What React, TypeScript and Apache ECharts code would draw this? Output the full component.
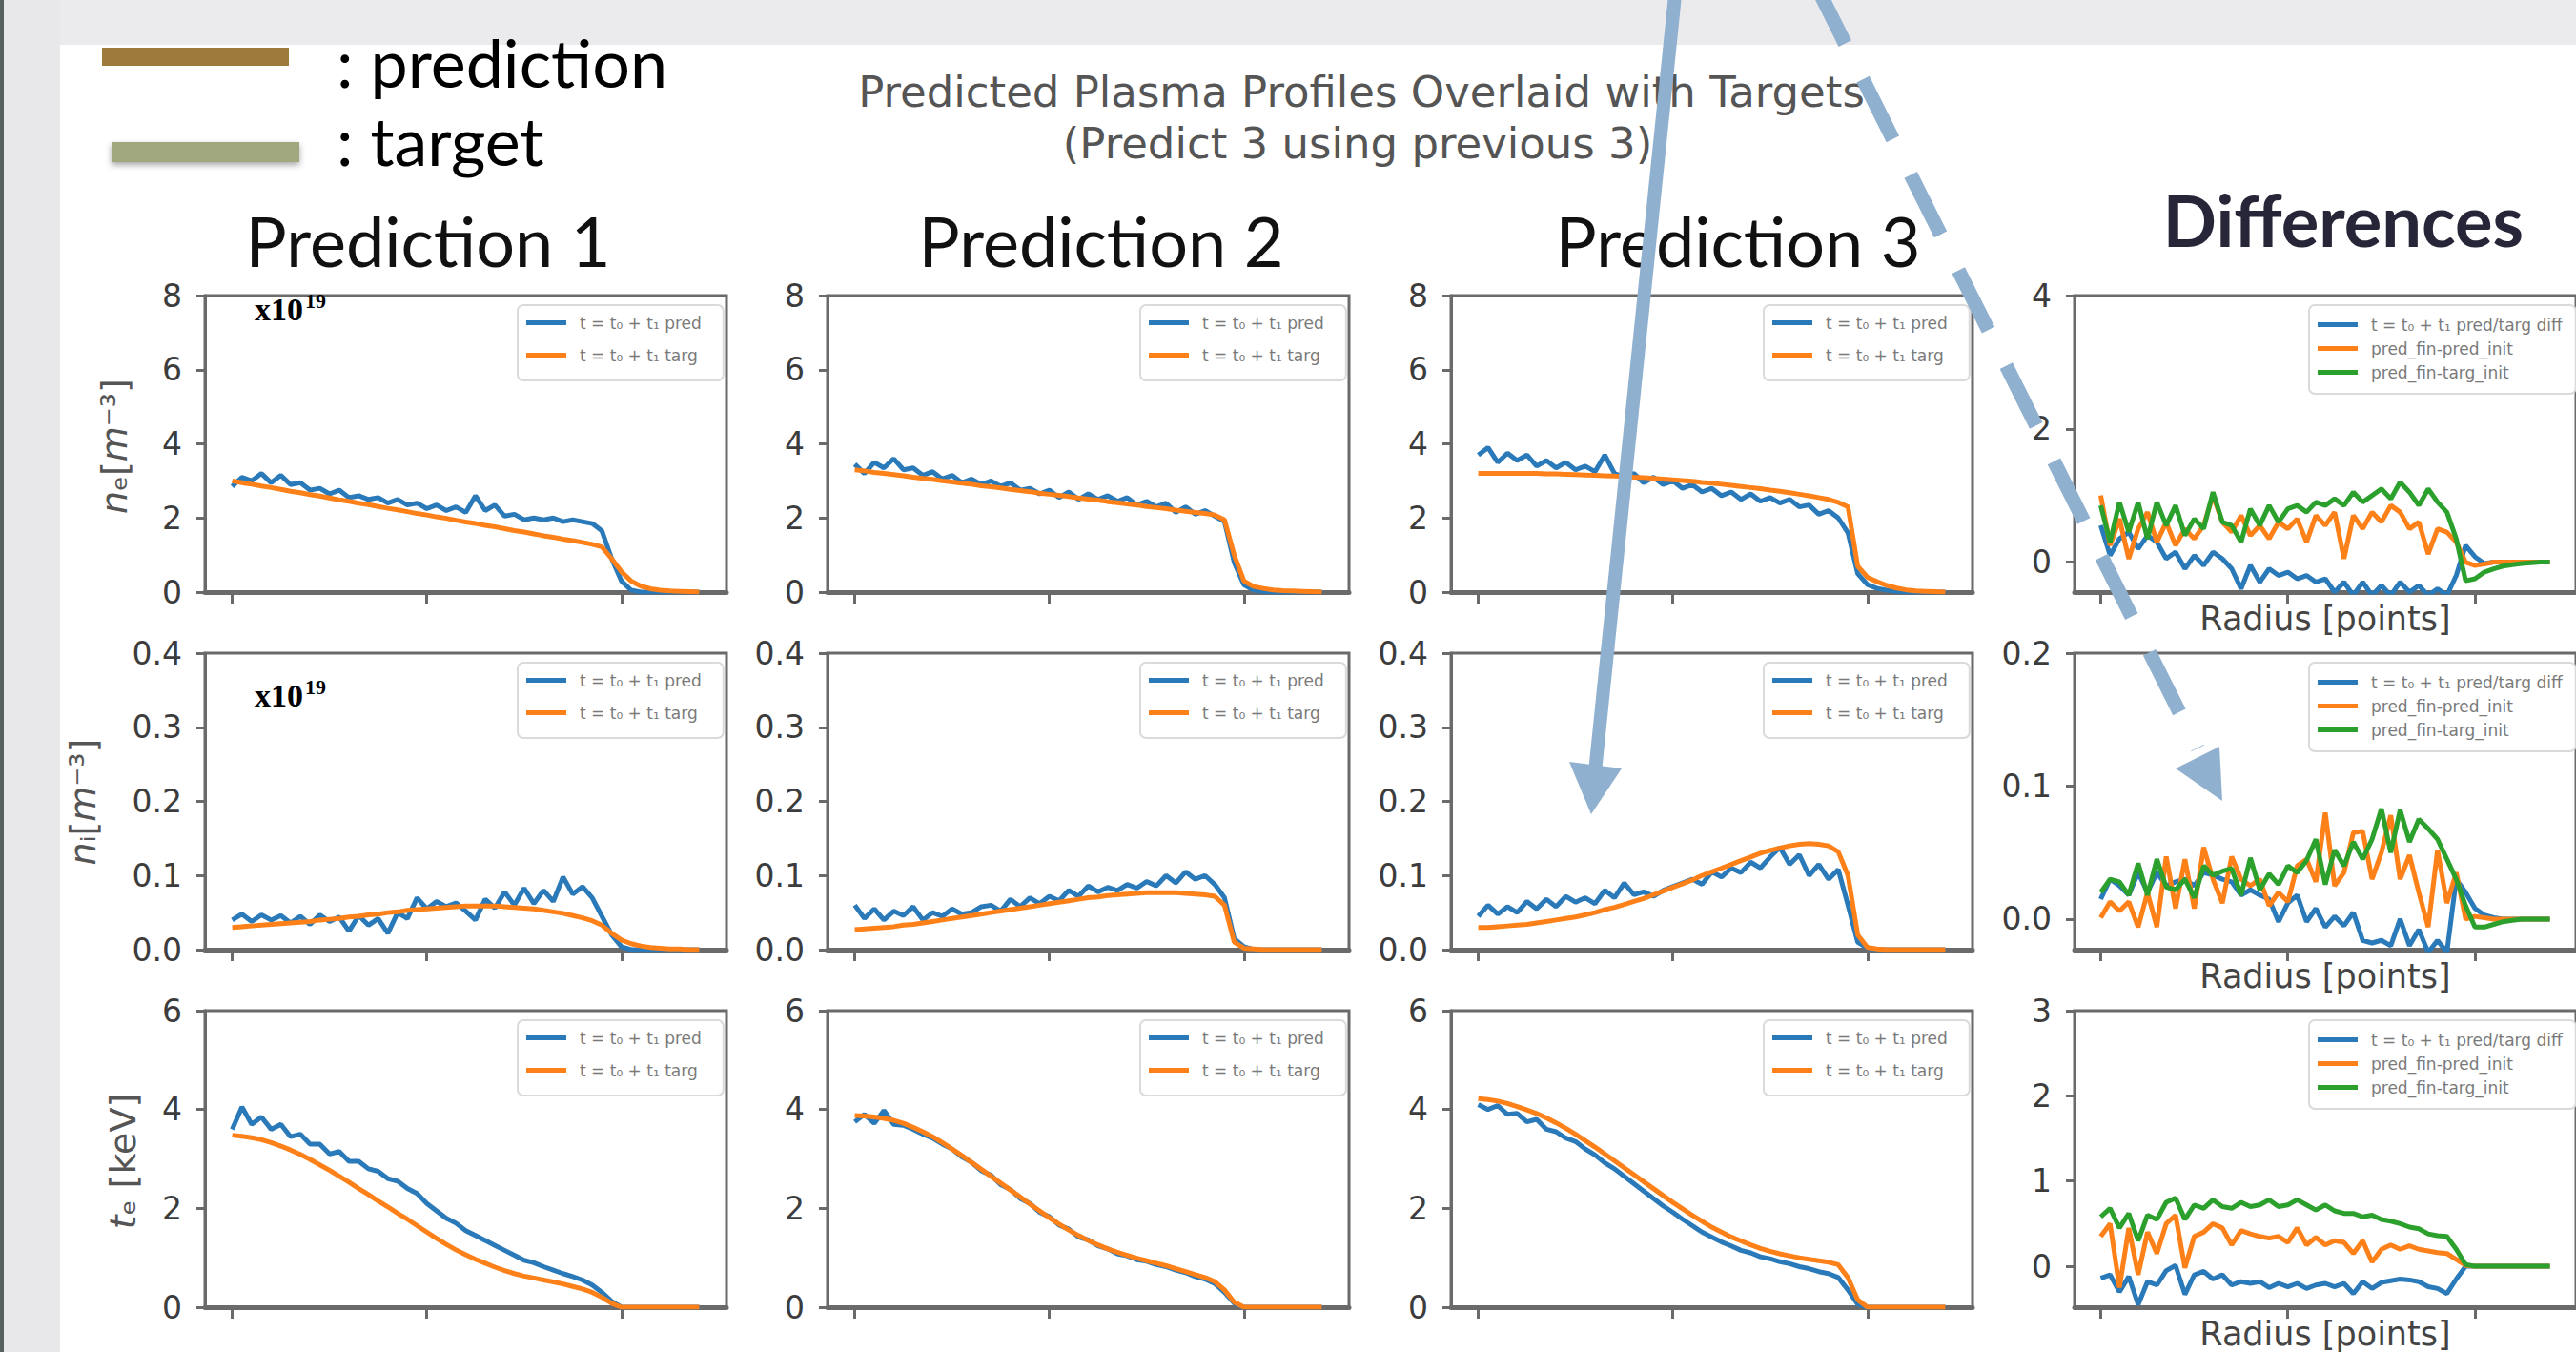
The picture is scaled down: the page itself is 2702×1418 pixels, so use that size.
import React, { useEffect, useRef } from "react";
import * as echarts from "echarts";

// ---------- data ----------
const radius = [0, 2.5, 5, 7.5, 10, 12.5, 15, 17.5, 20, 22.5, 25, 27.5, 30, 32.5, 35, 37.5, 40, 42.5, 45, 47.5, 50, 52.5, 55, 57.5, 60, 62.5, 65, 67.5, 70, 72.5, 75, 77.5, 80, 82.5, 85, 87.5, 90, 92.5, 95, 97.5, 100, 102.5, 105, 107.5, 110, 112.5, 115, 117.5, 120];
const radiusTicks = [0, 50, 100];

const nePred1 = [2.85, 3.1, 3.0, 3.2, 2.95, 3.15, 2.9, 2.95, 2.75, 2.8, 2.65, 2.75, 2.55, 2.6, 2.5, 2.55, 2.4, 2.5, 2.35, 2.4, 2.25, 2.35, 2.2, 2.3, 2.15, 2.6, 2.2, 2.35, 2.05, 2.1, 1.95, 2.0, 1.95, 2.0, 1.9, 1.95, 1.9, 1.85, 1.65, 0.9, 0.3, 0.05, 0, 0, 0, 0, 0, 0, 0];
const neTarg1 = [3.0, 2.95, 2.91, 2.86, 2.82, 2.77, 2.72, 2.68, 2.63, 2.59, 2.54, 2.49, 2.45, 2.4, 2.36, 2.31, 2.26, 2.22, 2.17, 2.12, 2.08, 2.03, 1.99, 1.94, 1.89, 1.85, 1.8, 1.76, 1.71, 1.66, 1.62, 1.57, 1.52, 1.48, 1.43, 1.39, 1.34, 1.29, 1.22, 0.9, 0.55, 0.3, 0.16, 0.09, 0.05, 0.03, 0.02, 0.01, 0.0];
const nePred2 = [3.45, 3.2, 3.5, 3.35, 3.6, 3.3, 3.35, 3.15, 3.25, 3.05, 3.15, 2.95, 3.05, 2.9, 3.0, 2.85, 2.95, 2.75, 2.8, 2.65, 2.75, 2.55, 2.7, 2.5, 2.65, 2.5, 2.6, 2.45, 2.55, 2.35, 2.45, 2.3, 2.4, 2.15, 2.3, 2.1, 2.2, 2.05, 1.9, 0.8, 0.2, 0.05, 0.02, 0, 0, 0, 0, 0, 0];
const neTarg2 = [3.3, 3.27, 3.23, 3.2, 3.17, 3.14, 3.1, 3.07, 3.04, 3.0, 2.97, 2.94, 2.91, 2.87, 2.84, 2.81, 2.77, 2.74, 2.71, 2.67, 2.64, 2.61, 2.58, 2.54, 2.51, 2.48, 2.44, 2.41, 2.38, 2.35, 2.31, 2.28, 2.25, 2.21, 2.18, 2.15, 2.12, 2.08, 1.95, 1.0, 0.3, 0.15, 0.1, 0.06, 0.04, 0.03, 0.02, 0.01, 0.0];
const nePred3 = [3.7, 3.9, 3.5, 3.75, 3.55, 3.7, 3.4, 3.55, 3.35, 3.5, 3.3, 3.4, 3.25, 3.7, 3.2, 3.1, 3.2, 2.95, 3.1, 2.9, 3.0, 2.8, 2.9, 2.7, 2.8, 2.6, 2.7, 2.5, 2.65, 2.45, 2.55, 2.4, 2.5, 2.3, 2.35, 2.1, 2.2, 2.0, 1.6, 0.5, 0.2, 0.1, 0.05, 0.02, 0, 0, 0, 0, 0];
const neTarg3 = [3.2, 3.2, 3.2, 3.2, 3.2, 3.2, 3.2, 3.19, 3.19, 3.18, 3.17, 3.16, 3.15, 3.14, 3.13, 3.12, 3.1, 3.09, 3.07, 3.05, 3.03, 3.01, 2.99, 2.96, 2.94, 2.91, 2.88, 2.85, 2.82, 2.79, 2.75, 2.72, 2.68, 2.64, 2.6, 2.55, 2.5, 2.42, 2.3, 0.7, 0.4, 0.28, 0.18, 0.11, 0.06, 0.03, 0.02, 0.01, 0.0];
const neDiffPred = [0.55, 0.1, 0.35, 0.45, 0.2, 0.4, 0.3, 0.05, 0.15, -0.1, 0.1, -0.05, 0.15, 0.05, -0.1, -0.4, -0.05, -0.3, -0.1, -0.2, -0.15, -0.25, -0.2, -0.3, -0.25, -0.45, -0.3, -0.5, -0.3, -0.5, -0.35, -0.5, -0.3, -0.45, -0.35, -0.5, -0.4, -0.5, -0.2, 0.25, 0.08, -0.02, 0, 0, 0, 0, 0, 0, 0];
const neDiffFinPred = [1.0, 0.25, 0.65, 0.05, 0.5, 0.75, 0.3, 0.6, 0.25, 0.5, 0.35, 0.55, 1.0, 0.6, 0.45, 0.7, 0.4, 0.55, 0.35, 0.6, 0.5, 0.65, 0.3, 0.7, 0.55, 0.75, 0.05, 0.7, 0.5, 0.75, 0.6, 0.85, 0.75, 0.5, 0.6, 0.12, 0.5, 0.45, 0.3, 0.0, -0.05, -0.03, 0, 0, 0, 0, 0, 0, 0];
const neDiffFinTarg = [0.85, 0.3, 0.9, 0.45, 0.9, 0.35, 0.9, 0.55, 0.85, 0.4, 0.65, 0.5, 1.05, 0.6, 0.55, 0.3, 0.8, 0.55, 0.85, 0.6, 0.8, 0.85, 0.75, 0.9, 0.85, 0.95, 0.85, 1.05, 0.9, 1.0, 1.1, 0.95, 1.2, 1.05, 0.85, 1.1, 0.9, 0.75, 0.35, -0.28, -0.25, -0.15, -0.1, -0.06, -0.04, -0.02, -0.01, 0, 0];

const niPred1 = [0.04, 0.048, 0.038, 0.047, 0.04, 0.046, 0.036, 0.045, 0.034, 0.047, 0.038, 0.044, 0.025, 0.046, 0.033, 0.042, 0.022, 0.05, 0.042, 0.07, 0.055, 0.065, 0.058, 0.063, 0.052, 0.04, 0.068, 0.056, 0.078, 0.06, 0.083, 0.062, 0.08, 0.065, 0.098, 0.075, 0.085, 0.07, 0.045, 0.02, 0.004, 0, 0, 0, 0, 0, 0, 0, 0];
const niTarg1 = [0.03, 0.031, 0.032, 0.033, 0.034, 0.035, 0.036, 0.037, 0.038, 0.04, 0.041, 0.042, 0.044, 0.045, 0.047, 0.048, 0.05, 0.051, 0.053, 0.054, 0.055, 0.056, 0.057, 0.058, 0.059, 0.059, 0.059, 0.059, 0.058, 0.057, 0.056, 0.055, 0.053, 0.051, 0.049, 0.046, 0.043, 0.039, 0.033, 0.022, 0.013, 0.008, 0.005, 0.003, 0.002, 0.001, 0.001, 0.0, 0.0];
const niPred2 = [0.06, 0.042, 0.055, 0.04, 0.052, 0.046, 0.058, 0.04, 0.05, 0.045, 0.055, 0.048, 0.05, 0.058, 0.06, 0.052, 0.068, 0.058, 0.07, 0.062, 0.072, 0.066, 0.08, 0.072, 0.086, 0.078, 0.084, 0.08, 0.088, 0.083, 0.092, 0.086, 0.1, 0.09, 0.105, 0.095, 0.1, 0.088, 0.07, 0.015, 0.004, 0, 0, 0, 0, 0, 0, 0, 0];
const niTarg2 = [0.027, 0.028, 0.029, 0.03, 0.031, 0.033, 0.034, 0.036, 0.038, 0.04, 0.042, 0.044, 0.046, 0.048, 0.05, 0.052, 0.054, 0.056, 0.058, 0.06, 0.062, 0.064, 0.066, 0.068, 0.07, 0.071, 0.073, 0.074, 0.075, 0.076, 0.077, 0.077, 0.077, 0.077, 0.076, 0.075, 0.074, 0.072, 0.06, 0.01, 0.002, 0.001, 0, 0, 0, 0, 0, 0, 0];
const niPred3 = [0.045, 0.06, 0.048, 0.058, 0.05, 0.065, 0.055, 0.068, 0.058, 0.072, 0.064, 0.07, 0.062, 0.08, 0.07, 0.09, 0.074, 0.078, 0.072, 0.08, 0.085, 0.09, 0.095, 0.088, 0.105, 0.098, 0.11, 0.104, 0.118, 0.11, 0.125, 0.138, 0.115, 0.128, 0.1, 0.115, 0.095, 0.108, 0.06, 0.01, 0.002, 0, 0, 0, 0, 0, 0, 0, 0];
const niTarg3 = [0.03, 0.03, 0.031, 0.032, 0.033, 0.034, 0.036, 0.038, 0.04, 0.042, 0.044, 0.047, 0.05, 0.054, 0.057, 0.061, 0.065, 0.069, 0.074, 0.079, 0.084, 0.089, 0.094, 0.1, 0.105, 0.11, 0.115, 0.12, 0.125, 0.13, 0.134, 0.137, 0.14, 0.142, 0.143, 0.142, 0.14, 0.132, 0.1, 0.02, 0.003, 0.001, 0, 0, 0, 0, 0, 0, 0];
const niDiffPred = [0.015, 0.03, 0.025, 0.018, 0.035, 0.02, 0.035, 0.025, 0.028, 0.03, 0.025, 0.035, 0.033, 0.03, 0.028, 0.018, 0.022, 0.018, 0.015, -0.002, 0.012, 0.018, -0.002, 0.008, -0.006, 0.002, -0.005, 0.005, -0.016, -0.018, -0.016, -0.02, 0.0, -0.02, -0.008, -0.025, -0.016, -0.025, 0.03, 0.02, 0.008, 0.003, 0.001, 0, 0, 0, 0, 0, 0];
const niDiffFinPred = [0.001, 0.013, 0.006, 0.013, -0.006, 0.02, -0.006, 0.047, 0.008, 0.045, 0.008, 0.054, 0.03, 0.012, 0.047, 0.03, 0.025, 0.03, 0.01, 0.02, 0.013, 0.04, 0.045, 0.028, 0.08, 0.025, 0.035, 0.065, 0.066, 0.03, 0.05, 0.078, 0.03, 0.048, 0.02, -0.006, 0.052, 0.012, 0.035, 0.0, 0.002, 0.001, 0, 0, 0, 0, 0, 0, 0];
const niDiffFinTarg = [0.02, 0.03, 0.028, 0.018, 0.042, 0.018, 0.045, 0.024, 0.022, 0.03, 0.016, 0.04, 0.033, 0.036, 0.038, 0.018, 0.046, 0.022, 0.034, 0.026, 0.04, 0.035, 0.044, 0.06, 0.026, 0.052, 0.04, 0.058, 0.045, 0.06, 0.083, 0.05, 0.082, 0.058, 0.075, 0.068, 0.06, 0.045, 0.03, 0.01, -0.006, -0.006, -0.004, -0.002, -0.001, 0, 0, 0, 0];

const tePred1 = [3.6, 4.05, 3.7, 3.85, 3.6, 3.7, 3.45, 3.5, 3.3, 3.3, 3.1, 3.15, 2.95, 2.95, 2.8, 2.75, 2.6, 2.55, 2.4, 2.3, 2.1, 1.95, 1.8, 1.7, 1.55, 1.45, 1.35, 1.25, 1.15, 1.05, 0.95, 0.9, 0.82, 0.75, 0.68, 0.62, 0.55, 0.45, 0.3, 0.12, 0, 0, 0, 0, 0, 0, 0, 0, 0];
const teTarg1 = [3.48, 3.46, 3.43, 3.39, 3.33, 3.26, 3.18, 3.09, 2.99, 2.88, 2.77, 2.65, 2.53, 2.4, 2.28, 2.15, 2.03, 1.9, 1.78, 1.65, 1.52, 1.39, 1.27, 1.16, 1.06, 0.97, 0.89, 0.81, 0.74, 0.68, 0.63, 0.59, 0.55, 0.51, 0.47, 0.42, 0.37, 0.3, 0.2, 0.08, 0, 0, 0, 0, 0, 0, 0, 0, 0];
const tePred2 = [3.75, 3.9, 3.72, 3.98, 3.7, 3.68, 3.6, 3.5, 3.42, 3.3, 3.2, 3.04, 2.93, 2.76, 2.67, 2.48, 2.38, 2.2, 2.1, 1.92, 1.83, 1.66, 1.58, 1.42, 1.36, 1.24, 1.18, 1.08, 1.04, 0.96, 0.93, 0.86, 0.82, 0.75, 0.7, 0.62, 0.57, 0.48, 0.3, 0.08, 0, 0, 0, 0, 0, 0, 0, 0, 0];
const teTarg2 = [3.88, 3.87, 3.85, 3.82, 3.78, 3.72, 3.64, 3.55, 3.45, 3.33, 3.2, 3.07, 2.93, 2.79, 2.65, 2.51, 2.37, 2.23, 2.09, 1.95, 1.81, 1.68, 1.56, 1.45, 1.35, 1.26, 1.18, 1.11, 1.05, 0.99, 0.94, 0.89, 0.84, 0.78, 0.72, 0.66, 0.6, 0.52, 0.35, 0.1, 0, 0, 0, 0, 0, 0, 0, 0, 0];
const tePred3 = [4.1, 4.0, 4.08, 3.9, 3.92, 3.75, 3.8, 3.6, 3.55, 3.42, 3.35, 3.2, 3.08, 2.92, 2.8, 2.65, 2.5, 2.35, 2.2, 2.05, 1.92, 1.78, 1.65, 1.52, 1.42, 1.32, 1.24, 1.15, 1.1, 1.02, 0.98, 0.92, 0.88, 0.82, 0.78, 0.72, 0.68, 0.6, 0.35, 0.06, 0, 0, 0, 0, 0, 0, 0, 0, 0];
const teTarg3 = [4.22, 4.2, 4.17, 4.12, 4.06, 3.99, 3.92, 3.83, 3.73, 3.62, 3.5, 3.37, 3.24, 3.1, 2.96, 2.82, 2.68, 2.54, 2.4, 2.26, 2.12, 1.99, 1.86, 1.74, 1.62, 1.52, 1.42, 1.34, 1.26, 1.19, 1.13, 1.08, 1.04, 1.0, 0.97, 0.94, 0.91, 0.86, 0.6, 0.15, 0, 0, 0, 0, 0, 0, 0, 0, 0];
const teDiffPred = [-0.14, -0.1, -0.3, -0.12, -0.45, -0.18, -0.22, -0.05, 0.01, -0.33, -0.1, -0.06, -0.15, -0.1, -0.22, -0.18, -0.2, -0.18, -0.25, -0.2, -0.24, -0.2, -0.26, -0.22, -0.2, -0.24, -0.2, -0.32, -0.18, -0.26, -0.19, -0.17, -0.15, -0.16, -0.18, -0.24, -0.26, -0.32, -0.15, 0.0, 0, 0, 0, 0, 0, 0, 0, 0, 0];
const teDiffFinPred = [0.35, 0.5, -0.25, 0.45, -0.1, 0.4, 0.15, 0.5, 0.6, -0.02, 0.35, 0.4, 0.5, 0.45, 0.25, 0.42, 0.38, 0.35, 0.33, 0.35, 0.28, 0.45, 0.25, 0.34, 0.25, 0.3, 0.28, 0.15, 0.3, 0.05, 0.2, 0.25, 0.2, 0.24, 0.2, 0.18, 0.16, 0.15, 0.08, 0.01, 0, 0, 0, 0, 0, 0, 0, 0, 0];
const teDiffFinTarg = [0.58, 0.68, 0.45, 0.62, 0.3, 0.6, 0.55, 0.75, 0.8, 0.55, 0.72, 0.68, 0.78, 0.7, 0.68, 0.75, 0.7, 0.72, 0.78, 0.7, 0.72, 0.78, 0.72, 0.66, 0.72, 0.65, 0.62, 0.62, 0.58, 0.6, 0.55, 0.53, 0.5, 0.46, 0.44, 0.38, 0.36, 0.35, 0.2, 0.02, 0, 0, 0, 0, 0, 0, 0, 0, 0];

const neTicks = [0, 2, 4, 6, 8];
const niTicks = [0, 0.1, 0.2, 0.3, 0.4];
const teTicks = [0, 2, 4, 6];
const neDiffTicks = [0, 2, 4];
const niDiffTicks = [0, 0.1, 0.2];
const teDiffTicks = [0, 1, 2, 3];

const columnTitles = ["Prediction 1", "Prediction 2", "Prediction 3"];

// ---------- names / styles ----------
const PRED = "t = t₀ + t₁ pred";
const TARG = "t = t₀ + t₁ targ";
const DIFF = "t = t₀ + t₁ pred/targ diff";
const FINPRED = "pred_fin-pred_init";
const FINTARG = "pred_fin-targ_init";
const BLUE = "#2a79b8";
const ORANGE = "#fd8019";
const GREEN = "#2ca02c";
const SPINE = "#6a6a6a";

const COL_LEFT = [215, 868, 1522, 2176];
const ROW_TOP = [310, 685, 1060];
const PW = 547;
const PH = 311;

type Line = { name: string; color: string; values: number[] };
type Panel = { row: number; col: number; lines: Line[]; yMin: number; yMax: number; ticks: number[]; dec: number };

const pt = (a: number[], b: number[]): Line[] => [
  { name: PRED, color: BLUE, values: a },
  { name: TARG, color: ORANGE, values: b },
];
const df = (a: number[], b: number[], c: number[]): Line[] => [
  { name: DIFF, color: BLUE, values: a },
  { name: FINPRED, color: ORANGE, values: b },
  { name: FINTARG, color: GREEN, values: c },
];

const panels: Panel[] = [
  { row: 0, col: 0, lines: pt(nePred1, neTarg1), yMin: 0, yMax: 8, ticks: neTicks, dec: 0 },
  { row: 0, col: 1, lines: pt(nePred2, neTarg2), yMin: 0, yMax: 8, ticks: neTicks, dec: 0 },
  { row: 0, col: 2, lines: pt(nePred3, neTarg3), yMin: 0, yMax: 8, ticks: neTicks, dec: 0 },
  { row: 0, col: 3, lines: df(neDiffPred, neDiffFinPred, neDiffFinTarg), yMin: -0.45, yMax: 4, ticks: neDiffTicks, dec: 0 },
  { row: 1, col: 0, lines: pt(niPred1, niTarg1), yMin: 0, yMax: 0.4, ticks: niTicks, dec: 1 },
  { row: 1, col: 1, lines: pt(niPred2, niTarg2), yMin: 0, yMax: 0.4, ticks: niTicks, dec: 1 },
  { row: 1, col: 2, lines: pt(niPred3, niTarg3), yMin: 0, yMax: 0.4, ticks: niTicks, dec: 1 },
  { row: 1, col: 3, lines: df(niDiffPred, niDiffFinPred, niDiffFinTarg), yMin: -0.023, yMax: 0.2, ticks: niDiffTicks, dec: 1 },
  { row: 2, col: 0, lines: pt(tePred1, teTarg1), yMin: 0, yMax: 6, ticks: teTicks, dec: 0 },
  { row: 2, col: 1, lines: pt(tePred2, teTarg2), yMin: 0, yMax: 6, ticks: teTicks, dec: 0 },
  { row: 2, col: 2, lines: pt(tePred3, teTarg3), yMin: 0, yMax: 6, ticks: teTicks, dec: 0 },
  { row: 2, col: 3, lines: df(teDiffPred, teDiffFinPred, teDiffFinTarg), yMin: -0.48, yMax: 3, ticks: teDiffTicks, dec: 0 },
];

function buildOption(): any {
  const grid = panels.map((p) => ({
    left: COL_LEFT[p.col],
    top: ROW_TOP[p.row],
    width: PW,
    height: PH,
    show: true,
    borderColor: SPINE,
    borderWidth: 3,
    backgroundColor: "transparent",
  }));

  const xAxis = panels.map((p, i) => ({
    gridIndex: i,
    type: "value",
    min: -7,
    max: 127,
    axisLine: { show: true, onZero: false, lineStyle: { color: SPINE, width: 5 } },
    axisTick: { show: true, customValues: radiusTicks, length: 12, lineStyle: { color: SPINE, width: 3 } },
    axisLabel: { show: false },
    splitLine: { show: false },
    name: p.col === 3 ? "Radius [points]" : "",
    nameLocation: "middle",
    nameGap: 10,
    nameTextStyle: { fontFamily: "DejaVu Sans", fontSize: 35, color: "#444", verticalAlign: "top" },
  }));

  const yAxis = panels.map((p, i) => ({
    gridIndex: i,
    type: "value",
    min: p.yMin,
    max: p.yMax,
    axisLine: { show: true, onZero: false, lineStyle: { color: SPINE, width: 3 } },
    axisTick: { show: true, customValues: p.ticks, length: 9, lineStyle: { color: SPINE, width: 3 } },
    axisLabel: {
      show: true,
      customValues: p.ticks,
      formatter: (v: number) => v.toFixed(p.dec),
      fontFamily: "DejaVu Sans",
      fontSize: 33,
      color: "#3c3c3c",
      margin: 24,
    },
    splitLine: { show: false },
  }));

  const series: any[] = [];
  panels.forEach((p, i) => {
    p.lines.forEach((l) => {
      series.push({
        type: "line",
        name: l.name,
        xAxisIndex: i,
        yAxisIndex: i,
        data: radius.map((r, k) => [r, l.values[k]]),
        showSymbol: false,
        symbol: "none",
        color: l.color,
        itemStyle: { color: l.color },
        lineStyle: { width: 5, color: l.color },
        silent: true,
        clip: true,
      });
    });
  });

  const legend = panels.map((p) => {
    const isDiff = p.col === 3;
    return {
      left: COL_LEFT[p.col] + (isDiff ? 246 : 328),
      top: ROW_TOP[p.row] + 10,
      orient: "vertical",
      data: p.lines.map((l) => l.name),
      icon: "rect",
      itemWidth: 42,
      itemHeight: 5,
      itemGap: isDiff ? 8 : 17,
      padding: isDiff ? [12, 14, 14, 9] : [10, 23, 18, 9],
      backgroundColor: "#ffffff",
      borderColor: "#dadada",
      borderWidth: 2,
      borderRadius: 6,
      selectedMode: false,
      textStyle: { color: "#7a7a7a", fontSize: 17, fontFamily: "DejaVu Sans", padding: [0, 0, 0, 9] },
    };
  });

  const axisLabelStyle = { fontFamily: "DejaVu Sans", fontSize: 38, fill: "#555", align: "center", verticalAlign: "middle" };
  const italic = { fontStyle: "italic", fontFamily: "DejaVu Sans", fontSize: 38, fill: "#555" };

  const elements: any[] = [
    { type: "rect", z: -10, shape: { x: 0, y: 0, width: 2702, height: 47 }, style: { fill: "#ebebee" } },
    { type: "rect", z: -10, shape: { x: 0, y: 0, width: 63, height: 1418 }, style: { fill: "#e8e7e9" } },
    { type: "rect", z: -9, shape: { x: 0, y: 0, width: 4, height: 1418 }, style: { fill: "#55605f" } },
    // top-left key
    { type: "rect", z: 1, shape: { x: 107, y: 50, width: 196, height: 19 }, style: { fill: "#9c7b3b" } },
    {
      type: "rect",
      z: 1,
      shape: { x: 117, y: 149, width: 197, height: 21 },
      style: { fill: "#a1a77e", shadowBlur: 6, shadowOffsetY: 3, shadowColor: "rgba(0,0,0,0.35)" },
    },
    { type: "text", z: 1, x: 353, y: 65, style: { text: ": prediction", fontFamily: "Lato", fontSize: 70, fill: "#000", align: "left", verticalAlign: "middle" } },
    { type: "text", z: 1, x: 353, y: 147, style: { text: ": target", fontFamily: "Lato", fontSize: 70, fill: "#000", align: "left", verticalAlign: "middle" } },
    // main title
    { type: "text", z: 1, x: 1428, y: 96, style: { text: "Predicted Plasma Profiles Overlaid with Targets", fontFamily: "DejaVu Sans", fontSize: 45, fill: "#555", align: "center", verticalAlign: "middle" } },
    { type: "text", z: 1, x: 1424, y: 150, style: { text: "(Predict 3 using previous 3)", fontFamily: "DejaVu Sans", fontSize: 45, fill: "#555", align: "center", verticalAlign: "middle" } },
    // column titles
    ...columnTitles.map((t, i) => ({
      type: "text",
      z: 1,
      x: [449, 1155, 1823][i],
      y: 252,
      style: { text: t, fontFamily: "Lato", fontSize: 72, fill: "#111", align: "center", verticalAlign: "middle" },
    })),
    { type: "text", z: 1, x: 2458, y: 230, style: { text: "Differences", fontFamily: "Lato", fontWeight: "bold", fontSize: 74, fill: "#262638", align: "center", verticalAlign: "middle" } },
    // x10^19 markers
    { type: "text", z: 5, x: 267, y: 324, style: { text: "x10", fontFamily: "Liberation Serif", fontWeight: "bold", fontSize: 34, fill: "#000", align: "left", verticalAlign: "middle" } },
    { type: "text", z: 5, x: 320, y: 315, style: { text: "19", fontFamily: "Liberation Serif", fontWeight: "bold", fontSize: 22, fill: "#000", align: "left", verticalAlign: "middle" } },
    { type: "text", z: 5, x: 267, y: 729, style: { text: "x10", fontFamily: "Liberation Serif", fontWeight: "bold", fontSize: 34, fill: "#000", align: "left", verticalAlign: "middle" } },
    { type: "text", z: 5, x: 320, y: 720, style: { text: "19", fontFamily: "Liberation Serif", fontWeight: "bold", fontSize: 22, fill: "#000", align: "left", verticalAlign: "middle" } },
    // rotated axis labels
    { type: "text", z: 1, x: 120, y: 468, rotation: Math.PI / 2, style: { ...axisLabelStyle, text: "{i|n}ₑ[{i|m}⁻³]", rich: { i: italic } } },
    { type: "text", z: 1, x: 87, y: 841, rotation: Math.PI / 2, style: { ...axisLabelStyle, text: "{i|n}ᵢ[{i|m}⁻³]", rich: { i: italic } } },
    { type: "text", z: 1, x: 129, y: 1218, rotation: Math.PI / 2, style: { ...axisLabelStyle, text: "{i|t}ₑ [keV]", rich: { i: italic } } },
    // annotation arrows
    { type: "line", z: 100, shape: { x1: 1757, y1: -5, x2: 1673, y2: 810 }, style: { stroke: "#8fb0cf", lineWidth: 14 } },
    { type: "polygon", z: 100, shape: { points: [[1646, 799], [1701, 806], [1669, 854]] }, style: { fill: "#8fb0cf" } },
    { type: "line", z: 100, shape: { x1: 1904, y1: -17, x2: 2305, y2: 785 }, style: { stroke: "#8fb0cf", lineWidth: 15, lineDash: [70, 42] } },
    { type: "polygon", z: 100, shape: { points: [[2282, 806], [2328, 783], [2331, 840]] }, style: { fill: "#8fb0cf" } },
  ];

  return {
    animation: false,
    backgroundColor: "#ffffff",
    textStyle: { fontFamily: "DejaVu Sans" },
    grid,
    xAxis,
    yAxis,
    legend,
    series,
    graphic: { elements },
  };
}

export default function App() {
  const ref = useRef<HTMLDivElement>(null);
  useEffect(() => {
    if (!ref.current) return;
    const chart = echarts.init(ref.current, undefined, { renderer: "svg" });
    chart.setOption(buildOption());
    return () => chart.dispose();
  }, []);
  return <div ref={ref} style={{ position: "absolute", left: 0, top: 0, width: 2702, height: 1418 }} />;
}
